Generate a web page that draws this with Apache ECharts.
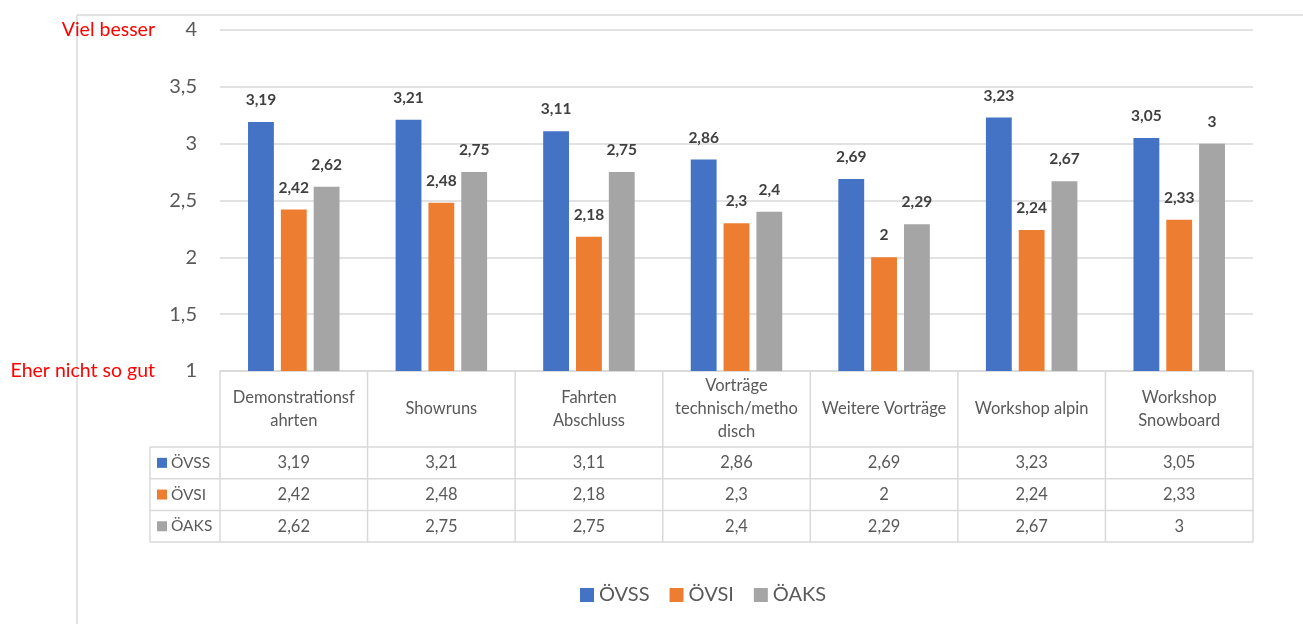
<!DOCTYPE html>
<html>
<head>
<meta charset="utf-8">
<script src="https://cdn.jsdelivr.net/npm/echarts@6/dist/echarts.min.js"></script>
<style>
  html, body { margin: 0; padding: 0; background: #fff; }
  #chart { width: 1303px; height: 624px; }
</style>
</head>
<body>
<div id="chart"></div>
<script>
// Kategorien und Werte (Bewertung 1 = eher nicht so gut, 4 = viel besser)
const categories = ['Demonstrationsfahrten', 'Showruns', 'Fahrten Abschluss', 'Vorträge technisch/methodisch', 'Weitere Vorträge', 'Workshop alpin', 'Workshop Snowboard'];
const categoryLabels = ['Demonstrationsf\nahrten', 'Showruns', 'Fahrten\nAbschluss', 'Vorträge\ntechnisch/metho\ndisch', 'Weitere Vorträge', 'Workshop alpin', 'Workshop\nSnowboard'];
const seriesNames = ['ÖVSS', 'ÖVSI', 'ÖAKS'];
const ovss = [3.19, 3.21, 3.11, 2.86, 2.69, 3.23, 3.05];
const ovsi = [2.42, 2.48, 2.18, 2.3, 2, 2.24, 2.33];
const oaks = [2.62, 2.75, 2.75, 2.4, 2.29, 2.67, 3];
const scaleTop = 'Viel besser';
const scaleBottom = 'Eher nicht so gut';

const colors = ['#4472C4', '#ED7D31', '#A5A5A5'];
const seriesData = [ovss, ovsi, oaks];
const FONT = 'Lato, "Open Sans", sans-serif';
const GRID = '#D9D9D9';
const TEXT = '#595959';

const fmt = v => String(v).replace('.', ',');
const catIndex = {};
categories.forEach((c, i) => { catIndex[c] = i; });

const chart = echarts.init(document.getElementById('chart'), null, { renderer: 'canvas' });

chart.setOption({
  animation: false,
  color: colors,
  grid: { left: 220, right: 50, top: 30, bottom: 253, containLabel: false },
  legend: {
    data: seriesNames,
    top: 580,
    left: 575,
    icon: 'rect',
    itemWidth: 14,
    itemHeight: 14,
    itemGap: 20,
    textStyle: { fontFamily: FONT, fontSize: 20, color: TEXT }
  },
  xAxis: {
    type: 'category',
    data: categories,
    axisLine: { show: true, lineStyle: { color: GRID, width: 1.5 } },
    axisTick: { show: false },
    axisLabel: {
      interval: 0,
      margin: 38,
      verticalAlign: 'middle',
      lineHeight: 23,
      fontFamily: FONT,
      fontSize: 16.5,
      color: TEXT,
      formatter: v => categoryLabels[catIndex[v]]
    }
  },
  yAxis: {
    type: 'value',
    min: 1,
    max: 4,
    interval: 0.5,
    axisLine: { show: false },
    axisTick: { show: false },
    splitLine: { lineStyle: { color: GRID, width: 1.5 } },
    axisLabel: {
      margin: 23,
      fontFamily: FONT,
      fontSize: 20,
      color: TEXT,
      formatter: v => fmt(v)
    }
  },
  series: seriesNames.map((name, k) => ({
    name: name,
    type: 'bar',
    data: seriesData[k],
    barGap: '27%',
    barCategoryGap: '38%',
    itemStyle: { color: colors[k] },
    label: {
      show: true,
      position: 'top',
      distance: 14,
      fontFamily: FONT,
      fontSize: 15.5,
      fontWeight: 'bold',
      color: '#404040',
      formatter: p => fmt(p.value)
    }
  }))
});

// Datentabelle unter der Achse, Rahmen und Skalenbeschriftung
function drawExtras() {
  const x0 = chart.convertToPixel({ xAxisIndex: 0 }, 0);
  const x1 = chart.convertToPixel({ xAxisIndex: 0 }, 1);
  const band = x1 - x0;
  const left = x0 - band / 2;
  const right = left + band * categories.length;
  const yBase = chart.convertToPixel({ yAxisIndex: 0 }, 1);
  const yTop = chart.convertToPixel({ yAxisIndex: 0 }, 4);
  const headerH = 76;
  const rowH = 31.7;
  const tableLeft = left - 70;
  const rowTop = yBase + headerH;
  const tableBottom = rowTop + rowH * seriesNames.length;
  const g = [];
  const line = (xa, ya, xb, yb) => g.push({
    type: 'line', silent: true,
    shape: { x1: xa, y1: ya, x2: xb, y2: yb },
    style: { stroke: GRID, lineWidth: 1.5 }
  });

  // outer frame
  line(77, 15, 1303, 15);
  line(77, 15, 77, 624);

  // vertical cell borders
  for (let i = 0; i <= categories.length; i++) {
    const x = left + band * i;
    line(x, yBase, x, tableBottom);
  }
  line(tableLeft, rowTop, tableLeft, tableBottom);
  // horizontal row borders
  for (let r = 0; r <= seriesNames.length; r++) {
    const y = rowTop + rowH * r;
    line(tableLeft, y, right, y);
  }

  seriesNames.forEach((name, r) => {
    const yc = rowTop + rowH * (r + 0.5);
    g.push({
      type: 'rect', silent: true,
      shape: { x: tableLeft + 7, y: yc - 5, width: 10, height: 10 },
      style: { fill: colors[r] }
    });
    g.push({
      type: 'text', silent: true,
      x: tableLeft + 21, y: yc,
      style: { text: name, fontFamily: FONT, fontSize: 15.5, fill: TEXT, align: 'left', verticalAlign: 'middle' }
    });
    seriesData[r].forEach((v, i) => {
      g.push({
        type: 'text', silent: true,
        x: left + band * (i + 0.5), y: yc,
        style: { text: fmt(v), fontFamily: FONT, fontSize: 16.5, fill: TEXT, align: 'center', verticalAlign: 'middle' }
      });
    });
  });

  // scale captions
  g.push({
    type: 'text', silent: true, x: 155, y: yTop,
    style: { text: scaleTop, fontFamily: FONT, fontSize: 19.5, fill: '#FF0000', align: 'right', verticalAlign: 'middle' }
  });
  g.push({
    type: 'text', silent: true, x: 155, y: yBase,
    style: { text: scaleBottom, fontFamily: FONT, fontSize: 19.5, fill: '#FF0000', align: 'right', verticalAlign: 'middle' }
  });

  chart.setOption({ graphic: g });
}
drawExtras();
</script>
</body>
</html>
